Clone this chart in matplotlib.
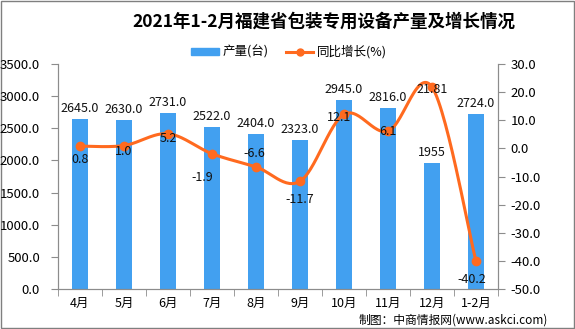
import numpy as np
import matplotlib
matplotlib.use("Agg")
import matplotlib.pyplot as plt
from matplotlib.lines import Line2D
from matplotlib.patches import Patch, Rectangle

plt.rcParams['font.family'] = ['Noto Sans CJK SC', 'DejaVu Sans']

months = ['4月', '5月', '6月', '7月', '8月', '9月', '10月', '11月', '12月', '1-2月']
output = [2645.0, 2630.0, 2731.0, 2522.0, 2404.0, 2323.0, 2945.0, 2816.0, 1955, 2724.0]
output_labels = ['2645.0', '2630.0', '2731.0', '2522.0', '2404.0', '2323.0',
                 '2945.0', '2816.0', '1955', '2724.0']
growth = [0.8, 1.0, 5.2, -1.9, -6.6, -11.7, 12.1, 6.1, 21.81, -40.2]
growth_labels = ['0.8', '1.0', '5.2', '-1.9', '-6.6', '-11.7', '12.1', '6.1', '21.81', '-40.2']

# label nudges (pixels) for the growth labels
growth_offsets = [(0, -13), (0, -6), (0, -5), (-10, -24), (-2, 13),
                  (0, -18), (-5, -3), (0, 0), (0, -2), (-4, -18)]

BAR = '#42A0F0'
LINE = '#FF6A1F'
AXC = '#8C8C8C'

fig = plt.figure(figsize=(5.75, 3.29), dpi=100)
ax = fig.add_axes([58/575, 1-289/329, 440/575, 225/329])
ax2 = ax.twinx()

x = np.arange(len(months))
ax.bar(x, output, width=0.38, color=BAR, zorder=2)
for xi, v, s in zip(x, output, output_labels):
    ax.annotate(s, (xi, v), xytext=(0, 4), textcoords='offset pixels',
                ha='center', va='bottom', fontsize=9, color='#111111')

# smoothed line (bezier through the points, like office charts)
def smooth(xs, ys, n=30):
    px = np.asarray(xs, float)
    py = np.asarray(ys, float)
    ox, oy = [], []
    for i in range(len(px) - 1):
        i0 = max(i - 1, 0)
        i3 = min(i + 2, len(px) - 1)
        c1x = px[i] + (px[i+1] - px[i0]) / 6
        c1y = py[i] + (py[i+1] - py[i0]) / 6
        c2x = px[i+1] - (px[i3] - px[i]) / 6
        c2y = py[i+1] - (py[i3] - py[i]) / 6
        t = np.linspace(0, 1, n)
        ox.extend((1-t)**3*px[i] + 3*(1-t)**2*t*c1x + 3*(1-t)*t**2*c2x + t**3*px[i+1])
        oy.extend((1-t)**3*py[i] + 3*(1-t)**2*t*c1y + 3*(1-t)*t**2*c2y + t**3*py[i+1])
    return ox, oy

sx, sy = smooth(x, growth)
ax2.plot(sx, sy, color=LINE, lw=2.2, zorder=3)
ax2.plot(x, growth, 'o', color=LINE, ms=6, zorder=4)
for xi, v, s, (dx, dy) in zip(x, growth, growth_labels, growth_offsets):
    ax2.annotate(s, (xi, v), xytext=(dx, dy), textcoords='offset pixels',
                 ha='center', va='center', fontsize=9, color='#111111', zorder=5)

ax.set_xlim(-0.5, len(months) - 0.5)
ax.set_ylim(0, 3500)
ax2.set_ylim(-50, 30)
ax.set_yticks(np.arange(0, 3501, 500))
ax.set_yticklabels([f'{v:.1f}' for v in np.arange(0, 3501, 500)])
ax2.set_yticks(np.arange(-50, 31, 10))
ax2.set_yticklabels([f'{v:.1f}' for v in np.arange(-50, 31, 10)])

ax.set_xticks(x)
ax.set_xticklabels(months)
ax.set_xticks(np.arange(-0.5, len(months), 1), minor=True)
ax.tick_params(axis='x', which='major', length=0, pad=6, labelsize=9)
ax.tick_params(axis='x', which='minor', length=5, color=AXC, direction='out')
ax.tick_params(axis='y', length=5, color=AXC, labelsize=9.5, pad=8)
ax2.tick_params(axis='y', length=5, color=AXC, labelsize=9.5, pad=4)

for a in (ax, ax2):
    a.spines['top'].set_visible(False)
    for k in ('left', 'right', 'bottom'):
        a.spines[k].set_color(AXC)
ax.set_zorder(1)
ax2.set_zorder(2)
ax.patch.set_visible(False)

fig.text(324/575, 1-22/329, '2021年1-2月福建省包装专用设备产量及增长情况',
         ha='center', va='center', fontsize=12.6, fontweight='bold')

handles = [Patch(color=BAR),
           Line2D([], [], color=LINE, lw=2.2, marker='o', ms=5)]
fig.legend(handles, ['产量(台)', '同比增长(%)'], loc='center',
           bbox_to_anchor=(289/575, 1-52/329), ncol=2, frameon=False,
           fontsize=9, handlelength=2.2, handleheight=0.5, columnspacing=1.4,
           handletextpad=0.3)

fig.text(548/575, 1-320/329, '制图：中商情报网(www.askci.com)', ha='right',
         va='center', fontsize=8.5)

fig.add_artist(Rectangle((0.001, 0.002), 0.997, 0.995, transform=fig.transFigure,
                         fill=False, edgecolor='#7F7F7F', lw=1))

fig.savefig('out.png', dpi=100)
